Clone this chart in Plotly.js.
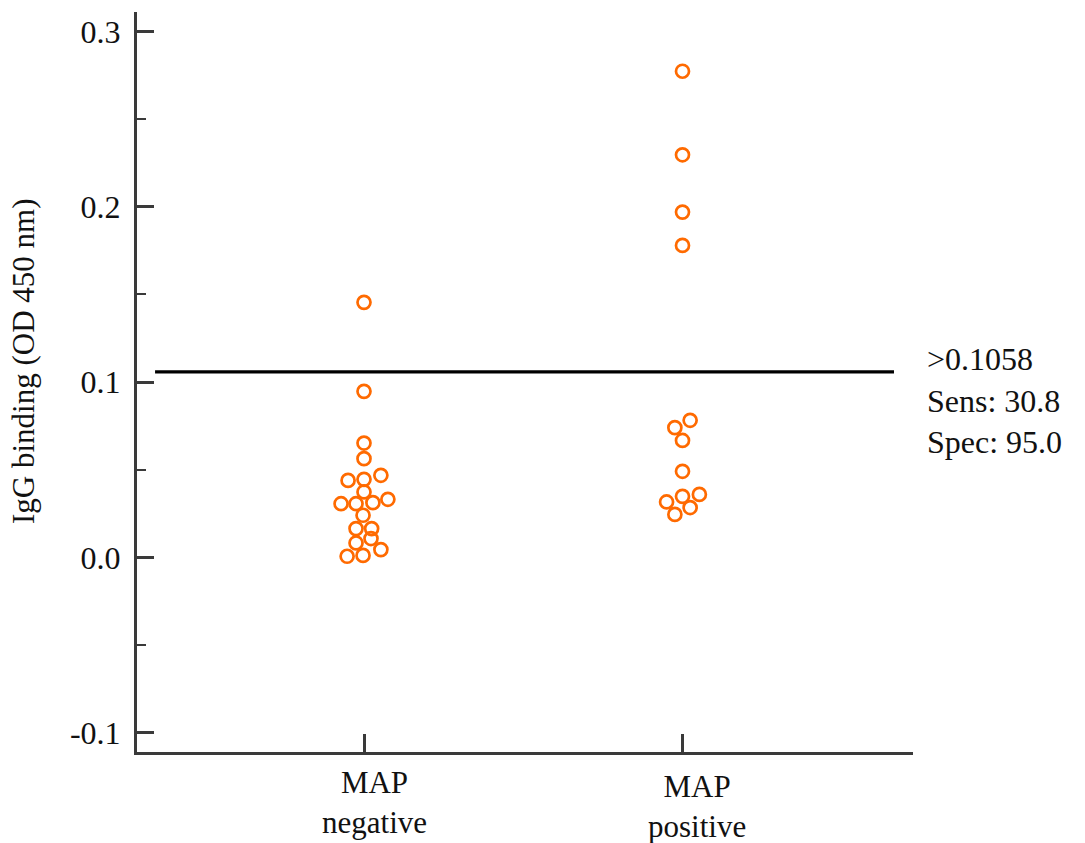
<!DOCTYPE html>
<html>
<head>
<meta charset="utf-8">
<script src="https://cdn.plot.ly/plotly-3.0.1.min.js"></script>
<style>
  html, body { margin: 0; padding: 0; background: #fff; }
  #chart { width: 1085px; height: 843px; }
</style>
</head>
<body>
<div id="chart"></div>
<script>
// ---- data ----
const categories = ["MAP<br>negative", "MAP<br>positive"];
const categoryPos = [1, 2];

// MAP negative group (n = 20)
const negValues = [0.1455, 0.0947, 0.0652, 0.0563, 0.0439, 0.0445, 0.0468, 0.0373,
                   0.0306, 0.0306, 0.0312, 0.0331, 0.0240, 0.0164, 0.0164, 0.0107,
                   0.0082, 0.0044, 0.0006, 0.0011];
const negJitter = [0, 0, 0, 0, -0.050, 0, 0.053, 0,
                   -0.072, -0.025, 0.028, 0.075, -0.003, -0.025, 0.024, 0.022,
                   -0.025, 0.053, -0.053, -0.003];

// MAP positive group (n = 13)
const posValues = [0.2774, 0.2297, 0.1970, 0.1780, 0.0782, 0.0740, 0.0667, 0.0491,
                   0.0316, 0.0348, 0.0359, 0.0284, 0.0245];
const posJitter = [0, 0, 0, 0, 0.024, -0.024, 0, 0,
                   -0.050, 0, 0.053, 0.024, -0.024];

const cutoff = 0.1058;
const cutoffText = [">0.1058", "Sens: 30.8", "Spec: 95.0"];
const yTickVals = [-0.1, 0.0, 0.1, 0.2, 0.3];
const yTickText = ["-0.1", "0.0", "0.1", "0.2", "0.3"];
const yTitle = "IgG binding (OD 450 nm)";

// ---- traces ----
const markerStyle = {
  symbol: "circle-open",
  size: 13,
  color: "#ff6a00",
  line: { color: "#ff6a00", width: 2.7 }
};

const traces = [
  {
    type: "scatter", mode: "markers",
    x: negValues.map((v, i) => categoryPos[0] + negJitter[i]),
    y: negValues,
    marker: markerStyle, hoverinfo: "y", showlegend: false
  },
  {
    type: "scatter", mode: "markers",
    x: posValues.map((v, i) => categoryPos[1] + posJitter[i]),
    y: posValues,
    marker: markerStyle, hoverinfo: "y", showlegend: false
  }
];

const serif = "Liberation Serif, Times New Roman, serif";
const axisColor = "#3a3a3a";

const annotations = categories.map((c, i) => ({
  text: c, xref: "x", yref: "paper",
  x: categoryPos[i], y: 0, yanchor: "top", xanchor: "center",
  xshift: i === 0 ? 10 : 14, yshift: i === 0 ? -11 : -15,
  showarrow: false, align: "center",
  font: { family: serif, size: 31, color: "#111" }
}));

annotations.push({
  text: cutoffText.join("<br>"),
  xref: "paper", yref: "y",
  x: 1.0155, y: 0.0894, xanchor: "left", yanchor: "middle",
  showarrow: false, align: "left",
  font: { family: serif, size: 32, color: "#111" }
});

annotations.push({
  text: yTitle, xref: "paper", yref: "paper",
  x: -0.146, y: 0.528, xanchor: "center", yanchor: "middle",
  textangle: -90, showarrow: false,
  font: { family: serif, size: 31, color: "#111" }
});

const layout = {
  width: 1085, height: 843,
  margin: { l: 137, r: 172, t: 12, b: 91, pad: 0 },
  paper_bgcolor: "#fff", plot_bgcolor: "#fff",
  showlegend: false,
  xaxis: {
    range: [0.2873, 2.7237],
    tickvals: categoryPos, showticklabels: false,
    ticks: "inside", ticklen: 18, tickwidth: 3, tickcolor: axisColor,
    showline: true, linecolor: axisColor, linewidth: 3,
    showgrid: false, zeroline: false
  },
  yaxis: {
    range: [-0.1111, 0.3112],
    tickvals: yTickVals, ticktext: yTickText,
    ticks: "inside", ticklen: 17, tickwidth: 3, tickcolor: axisColor,
    minor: { dtick: 0.05, tick0: 0, ticks: "inside", ticklen: 9, tickwidth: 2, tickcolor: axisColor },
    ticklabelstandoff: 7,
    tickfont: { family: serif, size: 32, color: "#111" },
    showline: true, linecolor: axisColor, linewidth: 3,
    showgrid: false, zeroline: false
  },
  shapes: [{
    type: "line", xref: "x", yref: "y",
    x0: 0.344, x1: 2.664, y0: cutoff, y1: cutoff,
    line: { color: "#000", width: 3.3 }
  }],
  annotations: annotations
};

Plotly.newPlot("chart", traces, layout, { displayModeBar: false, staticPlot: true });
</script>
</body>
</html>
